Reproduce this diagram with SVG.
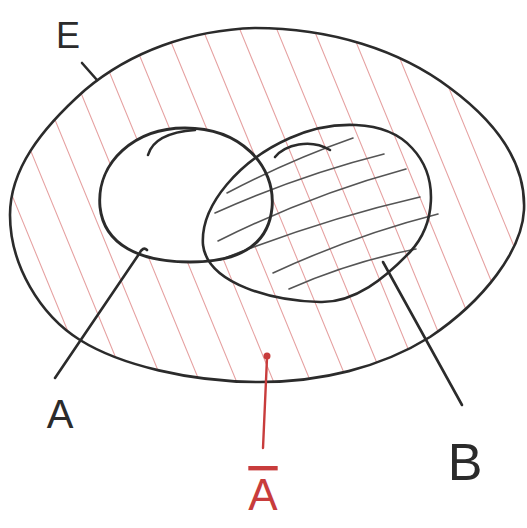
<svg xmlns="http://www.w3.org/2000/svg" width="527" height="528" viewBox="0 0 527 528">
  <style>
    .ink { fill: none; stroke: #2b2b2b; stroke-width: 2.6; stroke-linecap: round; stroke-linejoin: round; }
    .hatch { fill: none; stroke: #555555; stroke-width: 1.6; stroke-linecap: round; }
    .red { stroke: #dc7a7a; stroke-width: 1.1; stroke-opacity: 0.7; stroke-linecap: round; }
    .redink { fill: none; stroke: #c83c3c; stroke-width: 2.4; stroke-linecap: round; }
    .lbl { font-family: "Liberation Sans", "DejaVu Sans", sans-serif; fill: #2b2b2b; text-anchor: middle; }
  </style>
  <defs>
    <path id="outer" d="M 255 28 C 330 28 400 50 450 88 C 500 125 526 165 524 210 C 522 250 485 300 430 337 C 380 368 320 382 260 382 C 190 382 120 365 80 340 C 40 315 10 265 10 215 C 10 170 40 130 85 90 C 130 52 190 30 255 28 Z"/>
    <path id="shapeA" d="M 100 207 C 96 162 135 128 185 128 C 240 128 276 165 272 208 C 268 248 235 262 190 262 C 140 262 104 245 100 207 Z"/>
    <clipPath id="clipE"><use href="#outer"/></clipPath>
  </defs>
  <rect width="527" height="528" fill="#ffffff"/>

  <!-- red hatching: complement of A -->
  <g id="complement-hatch" clip-path="url(#clipE)">
    <line class="red" x1="-60" y1="20" x2="92" y2="390"/>
    <line class="red" x1="-23" y1="20" x2="129" y2="390"/>
    <line class="red" x1="14" y1="20" x2="166" y2="390"/>
    <line class="red" x1="51" y1="20" x2="203" y2="390"/>
    <line class="red" x1="88" y1="20" x2="240" y2="390"/>
    <line class="red" x1="125" y1="20" x2="277" y2="390"/>
    <line class="red" x1="162" y1="20" x2="314" y2="390"/>
    <line class="red" x1="199" y1="20" x2="351" y2="390"/>
    <line class="red" x1="236" y1="20" x2="388" y2="390"/>
    <line class="red" x1="273" y1="20" x2="425" y2="390"/>
    <line class="red" x1="310" y1="20" x2="462" y2="390"/>
    <line class="red" x1="347" y1="20" x2="499" y2="390"/>
    <line class="red" x1="384" y1="20" x2="536" y2="390"/>
    <line class="red" x1="421" y1="20" x2="573" y2="390"/>
    <line class="red" x1="458" y1="20" x2="610" y2="390"/>
  </g>

  <!-- A interior stays blank -->
  <use href="#shapeA" fill="#ffffff"/>

  <!-- black hatching of B -->
  <g id="b-hatch">
    <path class="hatch" d="M 227 193 Q 290 160 353 138"/>
    <path class="hatch" d="M 215 213 Q 300 175 384 154"/>
    <path class="hatch" d="M 218 241 Q 310 195 406 169"/>
    <path class="hatch" d="M 220 260 Q 320 220 420 197"/>
    <path class="hatch" d="M 273 273 Q 355 235 438 214"/>
    <path class="hatch" d="M 289 289 Q 350 262 416 249"/>
  </g>

  <g id="E">
    <use href="#outer" class="ink"/>
    <text class="lbl" x="68" y="48" font-size="36">E</text>
  </g>
  <g id="A">
    <use href="#shapeA" class="ink" style="stroke-width:2.9"/>
    <path class="ink" d="M 148 155 C 152 141 168 132 195 130"/>
    <text class="lbl" x="60" y="428" font-size="40">A</text>
  </g>
  <g id="B">
    <path class="ink" d="M 203 245 C 200 205 240 160 290 138 C 330 120 385 118 412 148 C 440 178 435 225 410 252 C 385 278 355 303 320 302 C 275 301 208 285 203 245 Z"/>
    <path class="ink" d="M 275 157 C 285 145 310 138 330 150"/>
    <text class="lbl" x="465" y="480" font-size="52">B</text>
  </g>
  <g id="notA">
    <circle cx="267" cy="356" r="3.5" fill="#c83c3c"/>
    <text class="lbl" x="263" y="510" font-size="44" style="fill:#c83c3c; text-decoration: overline;">A</text>
  </g>

  <g id="connectors">
    <path class="ink" d="M 97 80 L 82 63"/>
    <path class="ink" d="M 147 250 Q 143 246 139 254 L 55 378"/>
    <path class="ink" d="M 383 262 L 462 405"/>
    <path class="redink" d="M 267 358 L 263 448"/>
  </g>
</svg>
